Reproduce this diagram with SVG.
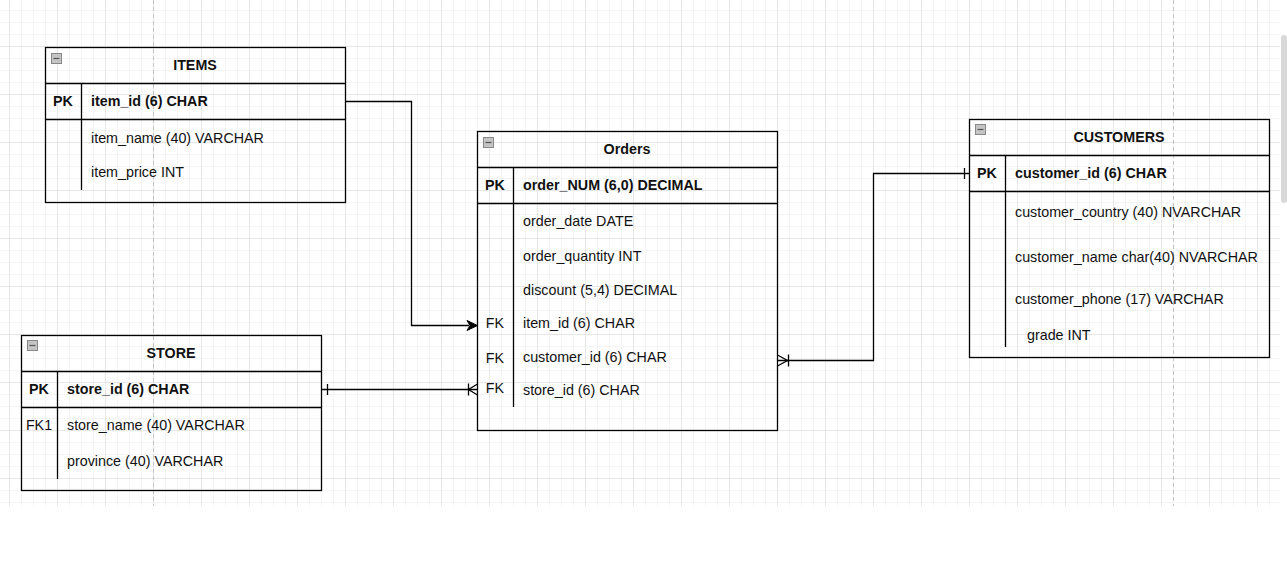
<svg xmlns="http://www.w3.org/2000/svg" width="1287" height="569" viewBox="0 0 1287 569">
<defs>
<pattern id="minor" x="9" y="10" width="12" height="12" patternUnits="userSpaceOnUse">
<path d="M0 0 H12 M0 0 V12" stroke="#ebebeb" stroke-width="1" fill="none"/>
</pattern>
<pattern id="major" x="9" y="46" width="48" height="48" patternUnits="userSpaceOnUse">
<path d="M0 0 H48 M0 0 V48" stroke="#dadada" stroke-width="1" fill="none"/>
</pattern>
<g id="icon">
<rect x="0" y="0" width="10" height="10" fill="#c4c4c4" stroke="#888" stroke-width="1"/>
<path d="M2 5 H8" stroke="#555" stroke-width="1.2"/>
</g>
</defs>
<style>
.t{font-family:"Liberation Sans",Arial,Helvetica,sans-serif;font-size:14.3px;fill:#111}
.b{font-weight:bold}
.c{text-anchor:middle}
.box{fill:none;stroke:#000;stroke-width:1.3}
.ln{fill:none;stroke:#000;stroke-width:1.3}
.cn{fill:none;stroke:#000;stroke-width:1.3}
.pb{stroke:#c4c4c4;stroke-width:1;stroke-dasharray:4 3}
</style>
<rect x="0" y="0" width="1287" height="569" fill="#fff"/>
<rect x="0" y="0" width="1280" height="506" fill="url(#minor)"/>
<rect x="0" y="0" width="1280" height="506" fill="url(#major)"/>
<line class="pb" x1="153.5" y1="0" x2="153.5" y2="506"/>
<line class="pb" x1="1173.5" y1="0" x2="1173.5" y2="506"/>
<rect x="1281" y="35" width="6" height="168" rx="3" fill="#d9d9d9"/>

<g id="items">
<rect class="box" x="45.5" y="47.5" width="300" height="155"/>
<line class="ln" x1="45.5" y1="83.5" x2="345.5" y2="83.5"/>
<line class="ln" x1="45.5" y1="119.5" x2="345.5" y2="119.5"/>
<line class="ln" x1="81.5" y1="83.5" x2="81.5" y2="190"/>
<use href="#icon" x="51.5" y="53.5"/>
<text class="t b c" x="195" y="70">ITEMS</text>
<text class="t b c" x="63" y="106">PK</text>
<text class="t b" x="91" y="106">item_id (6) CHAR</text>
<text class="t" x="91" y="143">item_name (40) VARCHAR</text>
<text class="t" x="91" y="177">item_price INT</text>
</g>

<g id="orders">
<rect class="box" x="477.5" y="131.5" width="300" height="299"/>
<line class="ln" x1="477.5" y1="167.5" x2="777.5" y2="167.5"/>
<line class="ln" x1="477.5" y1="203.5" x2="777.5" y2="203.5"/>
<line class="ln" x1="513.5" y1="167.5" x2="513.5" y2="407"/>
<use href="#icon" x="483.5" y="137.5"/>
<text class="t b c" x="627" y="154">Orders</text>
<text class="t b c" x="495" y="190">PK</text>
<text class="t b" x="523" y="190">order_NUM (6,0) DECIMAL</text>
<text class="t" x="523" y="226">order_date DATE</text>
<text class="t" x="523" y="261">order_quantity INT</text>
<text class="t" x="523" y="295">discount (5,4) DECIMAL</text>
<text class="t c" x="495" y="328">FK</text>
<text class="t" x="523" y="328">item_id (6) CHAR</text>
<text class="t c" x="495" y="363">FK</text>
<text class="t" x="523" y="362">customer_id (6) CHAR</text>
<text class="t c" x="495" y="393">FK</text>
<text class="t" x="523" y="395">store_id (6) CHAR</text>
</g>

<g id="customers">
<rect class="box" x="969.5" y="119.5" width="300" height="238"/>
<line class="ln" x1="969.5" y1="155.5" x2="1269.5" y2="155.5"/>
<line class="ln" x1="969.5" y1="191.5" x2="1269.5" y2="191.5"/>
<line class="ln" x1="1005.5" y1="155.5" x2="1005.5" y2="347"/>
<use href="#icon" x="975.5" y="124.5"/>
<text class="t b c" x="1119" y="142">CUSTOMERS</text>
<text class="t b c" x="987" y="178">PK</text>
<text class="t b" x="1015" y="178">customer_id (6) CHAR</text>
<text class="t" x="1015" y="217">customer_country (40) NVARCHAR</text>
<text class="t" x="1015" y="262">customer_name char(40) NVARCHAR</text>
<text class="t" x="1015" y="304">customer_phone (17) VARCHAR</text>
<text class="t" x="1027" y="340">grade INT</text>
</g>

<g id="store">
<rect class="box" x="21.5" y="335.5" width="300" height="155"/>
<line class="ln" x1="21.5" y1="371.5" x2="321.5" y2="371.5"/>
<line class="ln" x1="21.5" y1="407.5" x2="321.5" y2="407.5"/>
<line class="ln" x1="57.5" y1="371.5" x2="57.5" y2="479"/>
<use href="#icon" x="27.5" y="340.5"/>
<text class="t b c" x="171" y="358">STORE</text>
<text class="t b c" x="39" y="394">PK</text>
<text class="t b" x="67" y="394">store_id (6) CHAR</text>
<text class="t c" x="39" y="430">FK1</text>
<text class="t" x="67" y="430">store_name (40) VARCHAR</text>
<text class="t" x="67" y="466">province (40) VARCHAR</text>
</g>

<g id="connectors">
<path class="cn" d="M345.5 101.5 H411.5 V325.5 H469"/>
<path d="M477.5 325.5 L467 320.5 L470 325.5 L467 330.5 Z" fill="#000" stroke="#000" stroke-width="1"/>
<path class="cn" d="M321.5 389.5 H477.5"/>
<path class="cn" d="M327.5 384 V395"/>
<path class="cn" d="M477.5 384 L468.5 389.5 L477.5 395 M468.5 383.5 V395.5"/>
<path class="cn" d="M777.5 360.5 H873.5 V173.5 H969.5"/>
<path class="cn" d="M777.5 355 L787.5 360.5 L777.5 366 M788.5 354.5 V366.5"/>
<path class="cn" d="M964.5 168 V179"/>
</g>
</svg>
